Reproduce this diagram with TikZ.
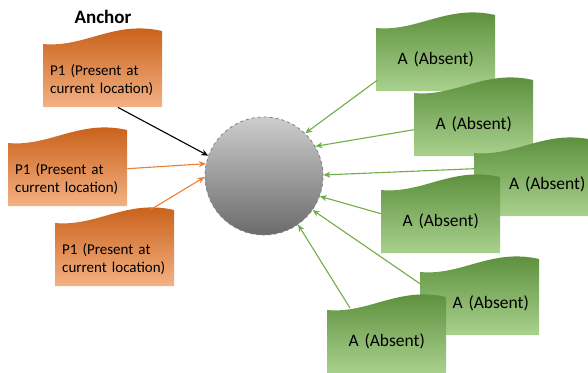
\documentclass[tikz,border=0pt]{standalone}
\usepackage{fontspec}
\setmainfont{Carlito}
\usetikzlibrary{arrows.meta,calc}
\definecolor{otop}{HTML}{C55A11}
\definecolor{omid}{HTML}{E8782F}
\definecolor{obot}{HTML}{F4B183}
\definecolor{gtop}{HTML}{568A36}
\definecolor{gmid}{HTML}{70AD47}
\definecolor{gbot}{HTML}{A9D18E}
\definecolor{oline}{HTML}{ED7D31}
\definecolor{gline}{HTML}{70AD47}
\definecolor{ctop}{HTML}{CDCDCD}
\definecolor{cbot}{HTML}{6B6B6B}
\definecolor{cedge}{HTML}{808080}
\newcommand{\wbox}[5]{%
  \shade[#4] (#2,#3+63) -- (#2,#3) .. controls +(41.6,4) and +(-47.6,-11) .. (#2+119,#3-13) -- (#2+119,#3+63) -- cycle;
  \node[#4text, anchor=north west] (#1) at (#2,#3) {#5};
}
\begin{document}
\begin{tikzpicture}[x=1pt,y=-1pt,
  orangebox/.style={top color=otop, middle color=omid, bottom color=obot},
  greenbox/.style={top color=gtop, middle color=gmid, bottom color=gbot},
  orangeboxtext/.style={minimum width=119pt, minimum height=63pt, text width=105pt, inner xsep=7pt, inner ysep=0pt, align=left, yshift=-4pt, font=\fontsize{15}{18}\selectfont},
  greenboxtext/.style={minimum width=119pt, minimum height=63pt, text width=119pt, inner sep=0pt, align=center, font=\fontsize{17.5}{20}\selectfont},
  circ/.style={circle, minimum size=118pt, inner sep=0pt, draw=cedge, dashed, line width=0.8pt, top color=ctop, bottom color=cbot},
  conn/.style={line width=1.1pt, -{Stealth[length=7pt,width=6pt]}},
  blk/.style={conn, black},
  orn/.style={conn, oline},
  grn/.style={conn, gline}]
\useasboundingbox (0,0) rectangle (588,372);
\node[font=\bfseries\fontsize{19}{21}\selectfont] (anchor) at (103,17) {Anchor};
\wbox{o1}{43}{44}{orangebox}{P1 (Present at\\current location)}
\wbox{o2}{8}{143}{orangebox}{P1 (Present at\\current location)}
\wbox{o3}{55}{223}{orangebox}{P1 (Present at\\current location)}
\wbox{g1}{376}{28}{greenbox}{A (Absent)}
\wbox{g2}{414}{93}{greenbox}{A (Absent)}
\wbox{g3}{474}{153}{greenbox}{\hspace*{27pt}A (Absent)}
\wbox{g4}{381}{190}{greenbox}{A (Absent)}
\wbox{g5}{420}{272}{greenbox}{\hspace*{22pt}A (Absent)}
\wbox{g6}{327}{310}{greenbox}{A (Absent)}
\node[circ] (c) at (264,176) {};
\draw[blk] ($(o1.south west)+(75,-4)$) -- (c.160);
\draw[orn] ($(o2.east)+(0,-10)$) -- (c.168);
\draw[orn] ($(o3.north west)+(95,-17)$) -- (c.181);
\draw[grn] ($(g1.south west)+(1,-11)$) -- (c.46);
\draw[grn] ($(g2.west)+(0,5)$) -- (c.30);
\draw[grn] ($(g3.west)+(0,-16)$) -- (c.1);
\draw[grn] ($(g4.west)+(0,-8)$) -- (c.-20);
\draw[grn] ($(g5.west)+(0,-20)$) -- (c.-35);
\draw[grn] ($(g6.north west)+(23,-2)$) -- (c.-55);
\end{tikzpicture}
\end{document}
